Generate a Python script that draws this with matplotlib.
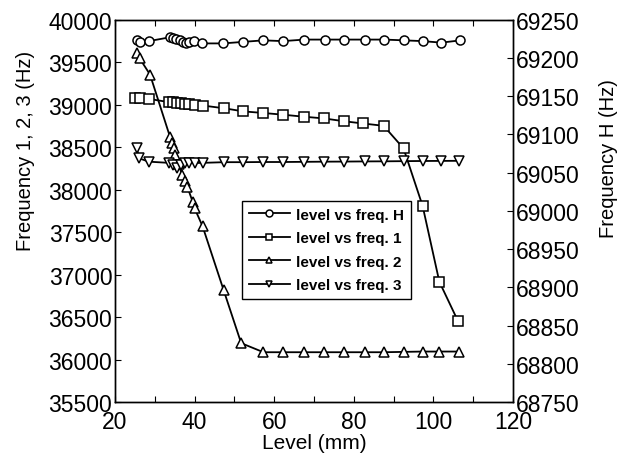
import matplotlib.pyplot as plt
from matplotlib.lines import Line2D

plt.rcParams['font.family'] = ['Liberation Sans', 'DejaVu Sans']

# level (mm) and frequencies
level_h = [25.5, 26.2, 28.5, 33.8, 34.6, 35.4, 36.3, 37.1, 37.8, 38.6, 39.8, 41.8,
           47.2, 52.2, 57.3, 62.2, 67.6, 72.7, 77.6, 82.8, 87.7, 92.6, 97.3, 102.0, 106.8]
freq_h = [69224, 69221, 69222, 69227, 69226, 69225, 69224, 69221, 69220, 69221, 69222, 69219,
          69219, 69221, 69223, 69222, 69224, 69224, 69224, 69224, 69224, 69223, 69222, 69220, 69223]

level_1 = [25.0, 26.2, 28.5, 33.5, 34.5, 35.5, 36.5, 37.5, 38.5, 40.0, 42.0,
           47.5, 52.2, 57.3, 62.2, 67.5, 72.5, 77.5, 82.2, 87.5, 92.5, 97.3, 101.5, 106.2]
freq_1 = [39084, 39080, 39068, 39030, 39030, 39025, 39020, 39012, 39004, 38992, 38990,
          38957, 38921, 38902, 38882, 38858, 38838, 38805, 38779, 38751, 38485, 37807, 36915, 36451]

level_2 = [25.5, 26.2, 28.8, 33.8, 34.2, 34.8, 35.2, 36.0, 36.8, 37.5, 38.2, 39.5, 40.0, 42.0,
           47.3, 51.7, 57.3, 62.2, 67.5, 72.5, 77.5, 82.8, 87.5, 92.5, 97.3, 101.5, 106.5]
freq_2 = [39603, 39544, 39354, 38624, 38553, 38485, 38402, 38300, 38176, 38097, 38030, 37859, 37780, 37569,
          36816, 36193, 36086, 36086, 36086, 36086, 36086, 36086, 36086, 36090, 36094, 36094, 36094]

level_3 = [25.5, 26.0, 28.5, 33.5, 34.5, 35.5, 36.5, 37.5, 38.5, 40.0, 42.0,
           47.5, 52.2, 57.3, 62.2, 67.5, 72.5, 77.5, 82.8, 87.7, 92.5, 97.3, 102.0, 106.5]
freq_3 = [38486, 38369, 38329, 38315, 38290, 38260, 38295, 38310, 38313, 38313, 38315,
          38323, 38323, 38325, 38325, 38327, 38329, 38330, 38332, 38333, 38335, 38337, 38338, 38339]

xticks = list(range(20, 121, 10))
xticklabels = [str(t) if t % 20 == 0 else '' for t in xticks]

fig = plt.figure(figsize=(6.23, 4.56), dpi=100)
ax1 = fig.add_axes([0.1846, 0.1162, 0.6388, 0.8384])
ax2 = ax1.twinx()

mk = dict(color='black', lw=1.3, markersize=6.5, markerfacecolor='white',
          markeredgecolor='black', markeredgewidth=1.1)

ax1.plot(level_1, freq_1, marker='s', **mk)
ax1.plot(level_2, freq_2, marker='^', **mk)
ax1.plot(level_3, freq_3, marker='v', **mk)
ax2.plot(level_h, freq_h, marker='o', **mk)

ax1.set_xlim(20, 120)
ax1.set_ylim(35500, 40000)
ax2.set_ylim(68750, 69250)
ax1.set_xticks(xticks)
ax1.set_xticklabels(xticklabels)
ax1.set_yticks(range(35500, 40001, 500))
ax2.set_yticks(range(68750, 69251, 50))

ax1.tick_params(axis='x', direction='in', length=4, top=True, labelsize=16.5, pad=6, width=0.8)
ax1.tick_params(axis='y', direction='in', length=4, labelsize=16.5, pad=2, width=0.8)
ax2.tick_params(axis='y', direction='in', length=4, labelsize=16.5, pad=2, width=0.8)

ax1.set_xlabel('Level (mm)', fontsize=15, labelpad=0)
ax1.set_ylabel('Frequency 1, 2, 3 (Hz)', fontsize=14.5)
ax1.yaxis.set_label_coords(-0.201, 0.66)
ax2.set_ylabel('Frequency H (Hz)', fontsize=14.5)
ax2.yaxis.set_label_coords(1.216, 0.64)

for ax in (ax1, ax2):
    for s in ax.spines.values():
        s.set_linewidth(1.0)

handles = [Line2D([], [], marker=m, **mk) for m in ['o', 's', '^', 'v']]
labels = ['level vs freq. H', 'level vs freq. 1', 'level vs freq. 2', 'level vs freq. 3']
leg = ax2.legend(handles, labels, loc='upper left', bbox_to_anchor=(0.319, 0.526),
                 prop={'family': ['Liberation Sans Narrow', 'Liberation Sans'],
                       'weight': 'bold', 'size': 11},
                 frameon=True, fancybox=False, edgecolor='black', framealpha=1,
                 handlelength=2.7, handletextpad=0.4, labelspacing=0.62,
                 borderpad=0.45, borderaxespad=0)
leg.get_frame().set_linewidth(1.0)
for h in leg.legend_handles:
    h.set_markersize(5)

fig.savefig('out.png', dpi=100)
